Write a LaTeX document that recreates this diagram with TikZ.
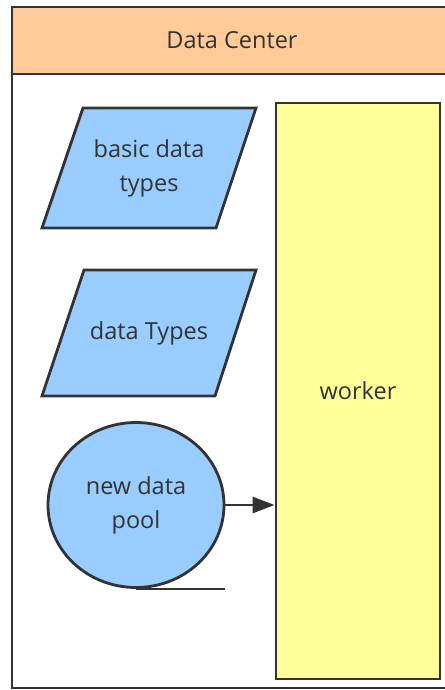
\documentclass[tikz,border=0pt]{standalone}
\usepackage{fontspec}
\setmainfont{Open Sans}
\usetikzlibrary{shapes.geometric,arrows.meta}
\definecolor{hdr}{HTML}{FFCC99}
\definecolor{blu}{HTML}{99CCFF}
\definecolor{ylw}{HTML}{FFFF99}
\definecolor{ink}{HTML}{333333}
\tikzset{
  pshape/.style={draw=ink,fill=blu,line width=2.8pt,line join=miter},
  pool/.style={ellipse,draw=ink,fill=blu,line width=2.8pt,minimum width=176pt,
    minimum height=165pt,align=center,inner sep=0pt},
  workbox/.style={rectangle,draw=ink,fill=ylw,line width=2.8pt,
    minimum width=164pt,minimum height=576pt,inner sep=0pt},
  lbl/.style={text=ink,align=center,font=\fontsize{23.5}{34}\selectfont}
}
\begin{document}
\begin{tikzpicture}[x=1pt,y=-1pt]
\useasboundingbox (0,0) rectangle (444,690);
\fill[white] (0,0) rectangle (444,690);
% frame with header band
\fill[hdr] (12,7) rectangle (452,74);
\draw[ink,line width=2.8pt] (12,7) rectangle (452,688) (12,74) -- (452,74);
\node[lbl] (title) at (232,40) {Data Center};
% data shapes
\draw[pshape] (42,228) -- (216,228) -- (256,108) -- (83,108) -- cycle;
\node[lbl] (basic) at (149,168) {basic data\\types};
\draw[pshape] (42,396) -- (215,396) -- (256,270) -- (84,270) -- cycle;
\node[lbl] (dtypes) at (149,333) {data Types};
\node[pool,lbl] (newpool) at (136,505) {new data\\pool};
\draw[ink,line width=2.8pt] (newpool.south) -- ++(89,0);
\node[workbox,lbl] (worker) at (358,391) {worker};
\draw[ink,line width=2.8pt,-{Triangle[length=22pt,width=16pt]}] (newpool.east) -- (worker.west |- newpool.east);
\end{tikzpicture}
\end{document}
